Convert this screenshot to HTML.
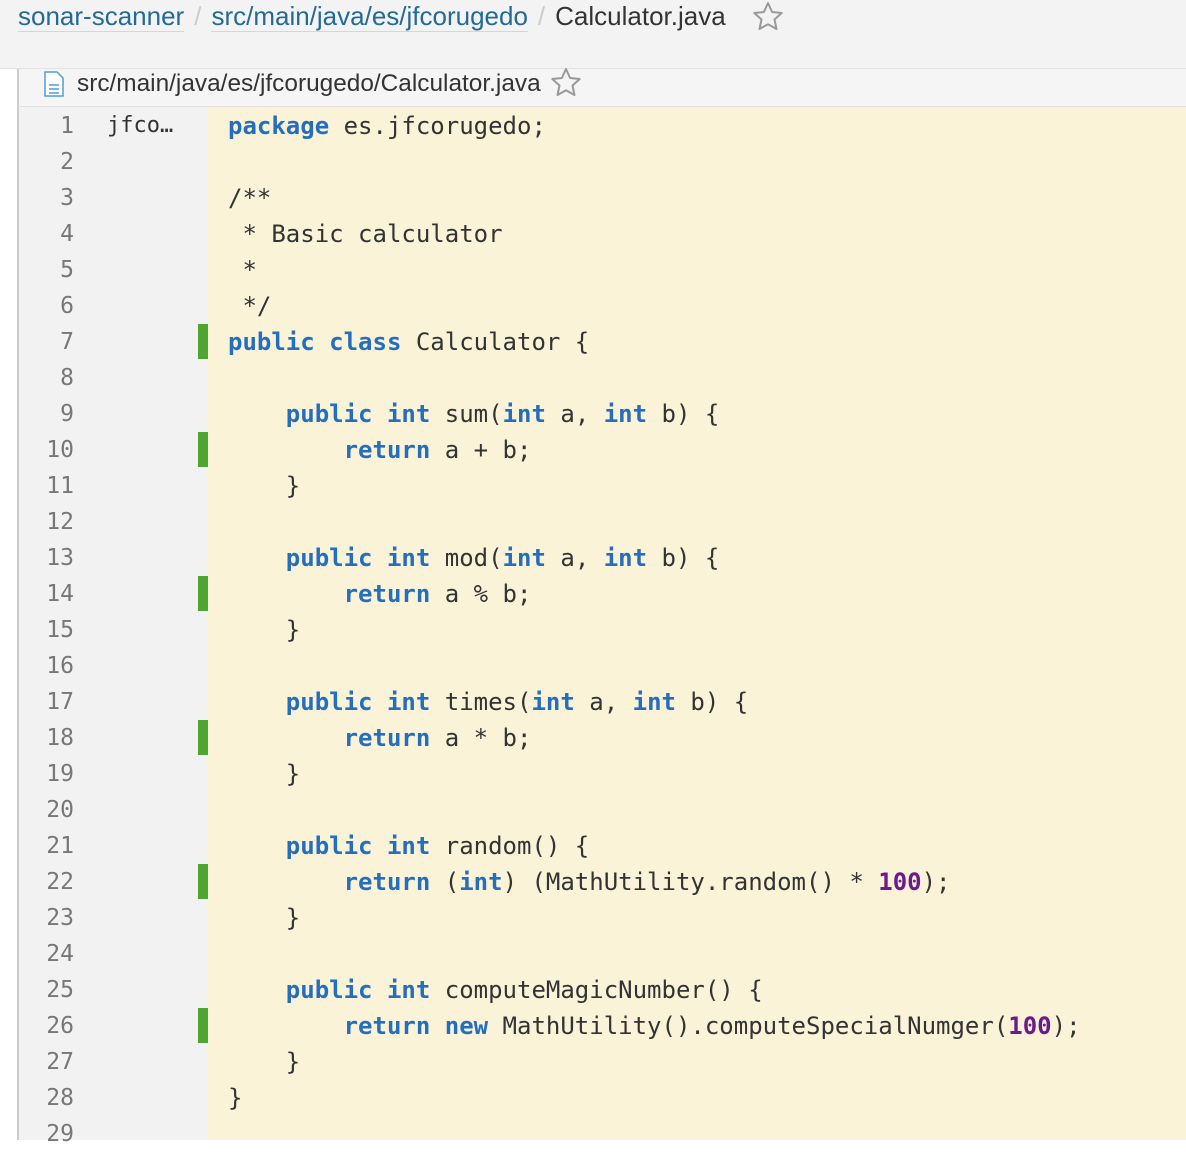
<!DOCTYPE html>
<html><head><meta charset="utf-8"><style>
body{margin:0;width:1186px;height:1140px;overflow:hidden;background:#fff;font-family:"Liberation Sans",sans-serif;position:relative}
.top{position:absolute;left:0;top:0;width:1186px;height:68px;background:#f3f3f3;border-bottom:1px solid #e2e2e2}
.bc{position:absolute;left:18px;top:0;font-size:26px;line-height:32px;color:#333;white-space:nowrap}
.bc a{color:#236a97;text-decoration:none;border-bottom:1px solid #c5dbea}
.bc .s{color:#ccc;margin:0 10px}
.hdr{position:absolute;left:17px;top:69px;width:1169px;height:37px;background:#f5f5f5;border-left:2px solid #ccc;border-bottom:1px solid #e0e0e0}
.fn{position:absolute;left:58px;top:-7px;font-size:24.4px;line-height:44px;color:#333;white-space:nowrap}
.gut{position:absolute;left:17px;top:107px;width:189px;height:1033px;background:#f2f2f2;border-left:2px solid #ccc}
.code{position:absolute;left:208px;top:107px;width:978px;height:1033px;background:#faf3d8}
.ln{position:absolute;left:19px;width:55px;text-align:right;font-family:"DejaVu Sans Mono",monospace;font-size:23px;color:#777;line-height:36px}
.c{position:absolute;left:228px;font-family:"DejaVu Sans Mono",monospace;font-size:24px;color:#333;line-height:36px;white-space:pre}
.k{color:#236ebf;font-weight:bold}
.n{color:#6d1a8c;font-weight:bold}
.g{position:absolute;left:198px;width:10px;height:35px;background:#4ea52f}
</style></head><body>
<div class="top"><div class="bc"><a>sonar-scanner</a><span class="s">/</span><a>src/main/java/es/jfcorugedo</a><span class="s">/</span>Calculator.java</div>
<svg style="position:absolute;left:752px;top:1px" width="32" height="31"><path d="M16 2l4.1 9 9.6 1-7.2 6.5 2 9.5L16 23.2 7.5 28l2-9.5L2.3 12l9.6-1z" fill="none" stroke="#999" stroke-width="2" stroke-linejoin="round"/></svg></div>
<div class="hdr"><svg style="position:absolute;left:24px;top:2px" width="22" height="26"><path d="M2 1h12l6 6v18H2z" fill="#fff" stroke="#4b9fd5" stroke-width="1.5"/><path d="M6 14h10M6 18h10M6 22h10" stroke="#4b9fd5" stroke-width="1.5"/></svg><div class="fn">src/main/java/es/jfcorugedo/Calculator.java</div>
<svg style="position:absolute;left:531px;top:-2px" width="32" height="31"><path d="M16 2l4.1 9 9.6 1-7.2 6.5 2 9.5L16 23.2 7.5 28l2-9.5L2.3 12l9.6-1z" fill="none" stroke="#999" stroke-width="2" stroke-linejoin="round"/></svg></div>
<div class="gut"></div>
<div class="code"></div>
<div id="L"></div>
<script>
var lines=[
'<span class="k">package</span> es.jfcorugedo;','',
'/**',' * Basic calculator',' *',' */',
'<span class="k">public</span> <span class="k">class</span> Calculator {','',
'    <span class="k">public</span> <span class="k">int</span> sum(<span class="k">int</span> a, <span class="k">int</span> b) {',
'        <span class="k">return</span> a + b;','    }','',
'    <span class="k">public</span> <span class="k">int</span> mod(<span class="k">int</span> a, <span class="k">int</span> b) {',
'        <span class="k">return</span> a % b;','    }','',
'    <span class="k">public</span> <span class="k">int</span> times(<span class="k">int</span> a, <span class="k">int</span> b) {',
'        <span class="k">return</span> a * b;','    }','',
'    <span class="k">public</span> <span class="k">int</span> random() {',
'        <span class="k">return</span> (<span class="k">int</span>) (MathUtility.random() * <span class="n">100</span>);','    }','',
'    <span class="k">public</span> <span class="k">int</span> computeMagicNumber() {',
'        <span class="k">return</span> <span class="k">new</span> MathUtility().computeSpecialNumger(<span class="n">100</span>);','    }',
'}',''];
var g=[7,10,14,18,22,26],h='';
for(var i=0;i<29;i++){var y=108+i*36;
h+='<div class="ln" style="top:'+y+'px">'+(i+1)+'</div>';
h+='<div class="c" style="top:'+y+'px">'+lines[i]+'</div>';
if(g.indexOf(i+1)>=0)h+='<div class="g" style="top:'+(y)+'px"></div>';}
h+='<div class="c" style="left:107px;top:108px;font-size:22px">jfco…</div>';
document.getElementById('L').innerHTML=h;
</script>
</body></html>
